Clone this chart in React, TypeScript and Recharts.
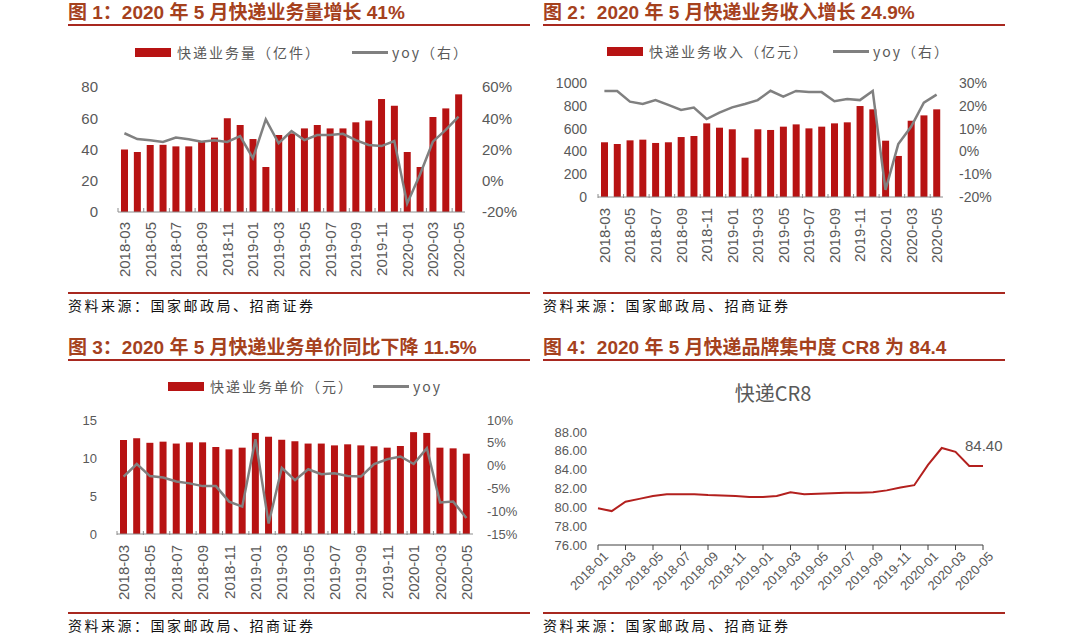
import React from 'react';
import { ComposedChart, LineChart, Bar, Line, XAxis, YAxis, LabelList } from 'recharts';

// 月份（图1-3）
const months = [
  '2018-03', '2018-04', '2018-05', '2018-06', '2018-07', '2018-08', '2018-09', '2018-10', '2018-11', '2018-12',
  '2019-01', '2019-02', '2019-03', '2019-04', '2019-05', '2019-06', '2019-07', '2019-08', '2019-09', '2019-10',
  '2019-11', '2019-12', '2020-01', '2020-02', '2020-03', '2020-04', '2020-05',
];
// 快递业务量（亿件）及同比
const volume = [40, 38.4, 42.9, 43, 42, 42, 45, 47.6, 60, 55.7, 46.7, 28.8, 49.3, 50.3, 53.5, 55.7, 53.5, 53.5, 57.4, 58.5, 72.3, 68, 38.4, 28.8, 60.8, 66.3, 75.3];
const volumeYoy = [30.4, 26.7, 25.9, 24.8, 27.6, 26.5, 25, 25.9, 24.8, 28.6, 14.4, 39.3, 24, 31.8, 26, 29.3, 29.3, 30, 26, 22.9, 22.2, 25.4, -14.5, 4, 25, 32.5, 41];
// 快递业务收入（亿元）及同比
const revenue = [480, 465, 497, 503, 474, 480, 526, 535, 646, 608, 594, 345, 594, 588, 617, 637, 602, 617, 646, 655, 798, 769, 494, 360, 669, 716, 769];
const revenueYoy = [26.5, 26.5, 21.8, 20.8, 22.5, 20.4, 18.2, 19.2, 14.2, 17, 19.3, 20.8, 22.5, 26.6, 24, 26.5, 26, 26, 22, 23, 22.5, 26.5, -16.9, 3.2, 10.8, 21.4, 24.9];
// 快递业务单价（元）及同比
const price = [12.37, 12.6, 12.0, 12.15, 11.9, 12.06, 12.06, 11.45, 11.14, 11.36, 13.3, 12.8, 12.4, 12.2, 11.9, 11.9, 11.66, 11.8, 11.66, 11.54, 11.36, 11.58, 13.4, 13.3, 11.36, 11.27, 10.57];
const priceYoy = [-2.4, 0.35, -2.3, -2.6, -3.5, -3.9, -4.5, -4.5, -7.9, -9, 5.8, -12.7, -0.5, -3.2, -0.8, -1.9, -1.7, -2.3, -2.4, 0.35, 1.4, 2, 0.35, 3.8, -8.1, -7.9, -11.5];

// 快递CR8
const crMonths = [
  '2018-01', '2018-02', '2018-03', '2018-04', '2018-05', '2018-06', '2018-07', '2018-08', '2018-09', '2018-10',
  '2018-11', '2018-12', '2019-01', '2019-02', '2019-03', '2019-04', '2019-05', '2019-06', '2019-07', '2019-08',
  '2019-09', '2019-10', '2019-11', '2019-12', '2020-01', '2020-02', '2020-03', '2020-04', '2020-05',
];
const cr8 = [79.9, 79.6, 80.6, 80.9, 81.2, 81.4, 81.4, 81.4, 81.3, 81.25, 81.2, 81.1, 81.1, 81.2, 81.6, 81.4, 81.45, 81.5, 81.55, 81.55, 81.6, 81.8, 82.1, 82.35, 84.5, 86.3, 85.9, 84.4, 84.4];

const volumeTicks = [0, 20, 40, 60, 80];
const volumeYoyTicks = [-20, 0, 20, 40, 60];
const revenueTicks = [0, 200, 400, 600, 800, 1000];
const revenueYoyTicks = [-20, -10, 0, 10, 20, 30];
const priceTicks = [0, 5, 10, 15];
const priceYoyTicks = [-15, -10, -5, 0, 5, 10];
const crTicks = [76, 78, 80, 82, 84, 86, 88];

const data1 = months.map((m, i) => ({ month: m, v: volume[i], yoy: volumeYoy[i] }));
const data2 = months.map((m, i) => ({ month: m, v: revenue[i], yoy: revenueYoy[i] }));
const data3 = months.map((m, i) => ({ month: m, v: price[i], yoy: priceYoy[i] }));
const data4 = crMonths.map((m, i) => ({ month: m, v: cr8[i] }));

const BAR = '#B71313';
const GREY = '#808080';
const TXT = '#595959';
const TITLE = '#A5411D';
const RULE = '#A8281F';
const NUM_FONT = 'Arial, "Liberation Sans", sans-serif';
const CJK_FONT = '"Noto Sans CJK SC", sans-serif';

// 竖排月份标签 + 每两个月一个刻度
const VTick = (props: any) => {
  const { x, y, payload } = props;
  const off = payload.offset || 0;
  return (
    <g>
      <line x1={x - off} x2={x - off} y1={y - 10} y2={y - 14} stroke="#8C8C8C" />
      <text x={x} y={y} transform={`rotate(-90 ${x} ${y})`} textAnchor="end" dominantBaseline="central"
        fontSize={15} fill={TXT} fontFamily={NUM_FONT}>{payload.value}</text>
    </g>
  );
};

// 斜排月份标签（图4）
const DTick = (props: any) => {
  const { x, y, payload } = props;
  const off = payload.offset || 0;
  return (
    <g>
      <line x1={x - off} x2={x - off} y1={y} y2={y + 5} stroke="#404040" />
      <text x={x + 8} y={y + 9} transform={`rotate(-45 ${x + 8} ${y + 9})`} textAnchor="end" dominantBaseline="central"
        fontSize={13} fill={TXT} fontFamily={NUM_FONT}>{payload.value}</text>
    </g>
  );
};

const Header = ({ left, top, text }: { left: number; top: number; text: string }) => (
  <>
    <div style={{ position: 'absolute', left, top, fontFamily: `Arial, ${CJK_FONT}`, fontWeight: 700, fontSize: 19, color: TITLE, whiteSpace: 'nowrap', lineHeight: '20px' }}>{text}</div>
    <div style={{ position: 'absolute', left, top: top + 21, width: 462, height: 2, background: RULE }} />
  </>
);

const Footer = ({ left, top }: { left: number; top: number }) => (
  <>
    <div style={{ position: 'absolute', left, top, width: 462, height: 2, background: RULE }} />
    <div style={{ position: 'absolute', left, top: top + 3, fontFamily: CJK_FONT, fontSize: 14, letterSpacing: 2.5, color: '#111', whiteSpace: 'nowrap', lineHeight: '20px' }}>
      资料来源：国家邮政局、招商证券
    </div>
  </>
);

const LegendItems = ({ top, rectLeft, barText, lineLeft, lineText }: any) => (
  <>
    <div style={{ position: 'absolute', left: rectLeft, top: top - 4, width: 36, height: 9, background: BAR }} />
    <div style={{ position: 'absolute', left: rectLeft + 42, top: top - 10, fontFamily: CJK_FONT, fontSize: 14, letterSpacing: 2, color: TXT, whiteSpace: 'nowrap', lineHeight: '20px' }}>{barText}</div>
    <div style={{ position: 'absolute', left: lineLeft, top: top - 1, width: 36, height: 3, background: GREY }} />
    <div style={{ position: 'absolute', left: lineLeft + 40, top: top - 10, fontFamily: CJK_FONT, fontSize: 14, letterSpacing: 2, color: TXT, whiteSpace: 'nowrap', lineHeight: '20px' }}>{lineText}</div>
  </>
);

const pct = (v: number) => `${v}%`;

export default function App() {
  const yTick = (size: number) => ({ fontSize: size, fill: TXT, fontFamily: NUM_FONT });
  return (
    <div style={{ position: 'absolute', left: 0, top: 0, width: 1080, height: 639, background: '#fff', overflow: 'hidden' }}>
      <Header left={68} top={3} text="图 1：2020 年 5 月快递业务量增长 41%" />
      <Header left={543} top={3} text="图 2：2020 年 5 月快递业务收入增长 24.9%" />
      <Header left={68} top={338} text="图 3：2020 年 5 月快递业务单价同比下降 11.5%" />
      <Header left={543} top={338} text="图 4：2020 年 5 月快递品牌集中度 CR8 为 84.4" />

      <LegendItems top={52} rectLeft={135} barText="快递业务量（亿件）" lineLeft={352} lineText="yoy（右）" />
      <LegendItems top={51} rectLeft={607} barText="快递业务收入（亿元）" lineLeft={833} lineText="yoy（右）" />
      <LegendItems top={386} rectLeft={168} barText="快递业务单价（元）" lineLeft={373} lineText="yoy" />

      {/* 图1 */}
      <div style={{ position: 'absolute', left: 40, top: 70 }}>
        <ComposedChart width={480} height={230} data={data1} margin={{ top: 17, right: 0, bottom: 0, left: 0 }}>
          <XAxis dataKey="month" interval={1} tick={<VTick />} tickSize={0} tickMargin={10} height={88} axisLine={{ stroke: '#8C8C8C' }} />
          <YAxis yAxisId="l" width={78} domain={[0, 80]} ticks={volumeTicks} interval={0} axisLine={false} tickLine={false} tickSize={0} tickMargin={20} tick={yTick(15)} />
          <YAxis yAxisId="r" orientation="right" width={55} domain={[-20, 60]} ticks={volumeYoyTicks} interval={0} tickFormatter={pct} axisLine={false} tickLine={false} tickSize={0} tickMargin={17} tick={yTick(15)} />
          <Bar yAxisId="l" dataKey="v" fill={BAR} barSize={7} isAnimationActive={false} />
          <Line yAxisId="r" dataKey="yoy" type="linear" stroke={GREY} strokeWidth={2.5} dot={false} isAnimationActive={false} />
        </ComposedChart>
      </div>

      {/* 图2 */}
      <div style={{ position: 'absolute', left: 520, top: 60 }}>
        <ComposedChart width={480} height={230} data={data2} margin={{ top: 23, right: 0, bottom: 0, left: 0 }}>
          <XAxis dataKey="month" interval={1} tick={<VTick />} tickSize={0} tickMargin={11} height={93} axisLine={{ stroke: '#8C8C8C' }} />
          <YAxis yAxisId="l" width={78} domain={[0, 1000]} ticks={revenueTicks} interval={0} axisLine={false} tickLine={false} tickSize={0} tickMargin={11} tick={yTick(14)} />
          <YAxis yAxisId="r" orientation="right" width={57} domain={[-20, 30]} ticks={revenueYoyTicks} interval={0} tickFormatter={pct} axisLine={false} tickLine={false} tickSize={0} tickMargin={16} tick={yTick(14)} />
          <Bar yAxisId="l" dataKey="v" fill={BAR} barSize={7} isAnimationActive={false} />
          <Line yAxisId="r" dataKey="yoy" type="linear" stroke={GREY} strokeWidth={2.5} dot={false} isAnimationActive={false} />
        </ComposedChart>
      </div>

      {/* 图3 */}
      <div style={{ position: 'absolute', left: 40, top: 400 }}>
        <ComposedChart width={500} height={230} data={data3} margin={{ top: 20, right: 0, bottom: 0, left: 0 }}>
          <XAxis dataKey="month" interval={1} tick={<VTick />} tickSize={0} tickMargin={11} height={96} axisLine={{ stroke: '#8C8C8C' }} />
          <YAxis yAxisId="l" width={77} domain={[0, 15]} ticks={priceTicks} interval={0} axisLine={false} tickLine={false} tickSize={0} tickMargin={20} tick={yTick(13)} />
          <YAxis yAxisId="r" orientation="right" width={67} domain={[-15, 10]} ticks={priceYoyTicks} interval={0} tickFormatter={pct} axisLine={false} tickLine={false} tickSize={0} tickMargin={14} tick={yTick(13)} />
          <Bar yAxisId="l" dataKey="v" fill={BAR} barSize={7} isAnimationActive={false} />
          <Line yAxisId="r" dataKey="yoy" type="linear" stroke={GREY} strokeWidth={2.5} dot={false} isAnimationActive={false} />
        </ComposedChart>
      </div>

      {/* 图4 */}
      <div style={{ position: 'absolute', left: 773 - 60, top: 380, width: 120, textAlign: 'center', fontFamily: CJK_FONT, fontSize: 20, color: TXT, lineHeight: '26px' }}>快递CR8</div>
      <div style={{ position: 'absolute', left: 520, top: 400 }}>
        <LineChart width={520} height={220} data={data4} margin={{ top: 32, right: 57, bottom: 0, left: 0 }}>
          <XAxis dataKey="month" interval={1} tick={<DTick />} tickSize={0} tickMargin={0} height={75} axisLine={{ stroke: '#404040' }} />
          <YAxis width={78} domain={[76, 88]} ticks={crTicks} interval={0} tickFormatter={(v: number) => v.toFixed(2)} axisLine={false} tickLine={false} tickSize={0} tickMargin={11} tick={yTick(13)} />
          <Line dataKey="v" type="linear" stroke="#B3201E" strokeWidth={2} dot={false} isAnimationActive={false}>
            <LabelList dataKey="v" content={(p: any) => p.index === cr8.length - 1 ? (
              <text x={p.x - 18} y={p.y - 20} fontSize={15} fill={TXT} fontFamily={NUM_FONT} dominantBaseline="central">{Number(p.value).toFixed(2)}</text>
            ) : null} />
          </Line>
        </LineChart>
      </div>

      <Footer left={68} top={292} />
      <Footer left={543} top={292} />
      <Footer left={68} top={612} />
      <Footer left={543} top={612} />
    </div>
  );
}
